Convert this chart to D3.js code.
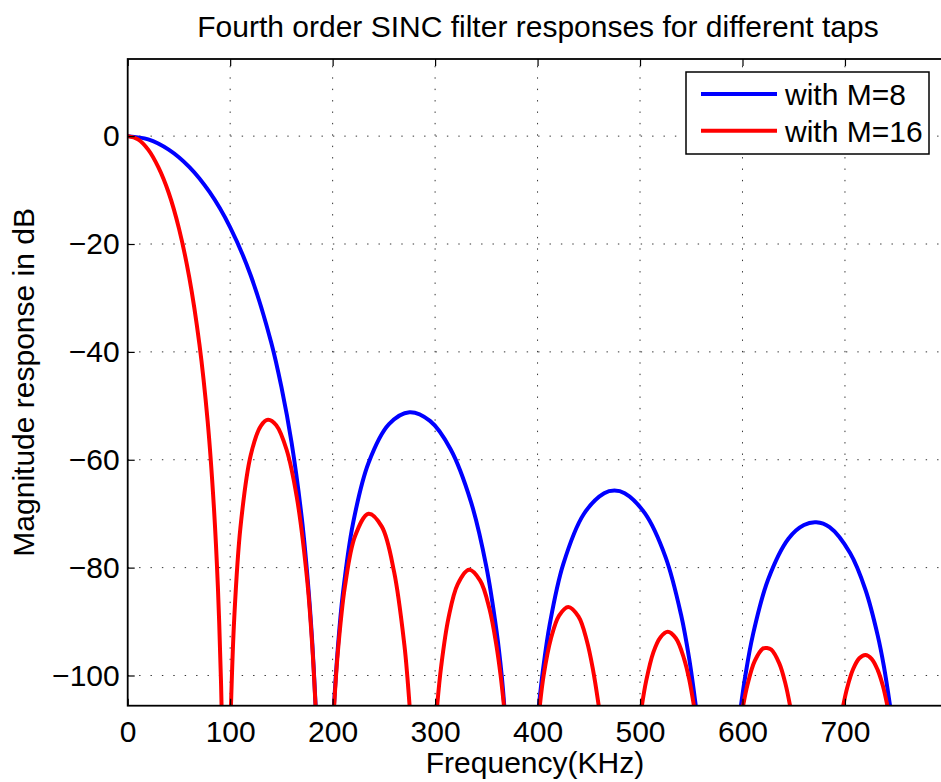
<!DOCTYPE html>
<html>
<head>
<meta charset="utf-8">
<script src="https://cdn.jsdelivr.net/npm/d3@7"></script>
<style>
  body { margin: 0; background: #fff; }
  .svg-container { width: 941px; height: 782px; overflow: hidden; }
  text { font-family: "Liberation Sans", Arial, sans-serif; fill: #000; }
</style>
</head>
<body>
<div class="svg-container"></div>
<script>
// frequency in KHz, magnitude in dB, one array per visible lobe
var m8Lobes = [
  [[0,0],[20,-0.6],[40,-2.5],[60,-5.7],[80,-10.4],[100,-16.9],[120,-25.8],[140,-38.2],[150,-46.5],[160,-56.9],[170,-71.0],[176,-83.0],[180,-93.5],[183.4,-105.6]],
  [[201.3,-105.6],[205,-95.1],[210,-84.8],[220,-71.7],[235,-60.6],[255,-53.4],[275,-51.2],[295,-52.8],[315,-58.0],[335,-67.8],[350,-79.8],[360,-91.8],[365,-100.0],[367.5,-105.6]],
  [[401.3,-105.6],[405,-99.4],[412,-90.4],[425,-79.4],[445,-70.1],[465,-66.2],[475,-65.7],[485,-66.2],[505,-70.0],[525,-78.1],[540,-88.7],[548,-96.9],[554.4,-105.6]],
  [[598.5,-105.6],[603,-99.8],[610,-92.6],[625,-82.2],[645,-74.6],[660,-72.1],[672,-71.6],[685,-72.5],[705,-77.3],[720,-84.1],[732,-92.6],[738,-98.3],[744.0,-105.6]]
];
var m16Lobes = [
  [[0,0],[10,-0.6],[20,-2.5],[30,-5.8],[40,-10.5],[50,-17.1],[60,-26.1],[70,-38.6],[78,-52.8],[84,-68.4],[88,-83.5],[91,-100.8],[91.6,-105.6]],
  [[100.8,-105.6],[104,-89.3],[110,-72.6],[120,-59.2],[130,-53.7],[137,-52.6],[145,-53.6],[155,-58.1],[165,-66.9],[175,-82.0],[180,-94.2],[183.3,-105.6]],
  [[201.5,-105.6],[205,-95.9],[212,-83.5],[222,-74.1],[235,-70.0],[248,-72.4],[260,-80.8],[270,-94.3],[273,-100.4],[275.1,-105.6]],
  [[302,-105.6],[306,-98.2],[313,-89.4],[322,-83.1],[333,-80.4],[344,-82.4],[353,-87.6],[360,-94.6],[364,-100.1],[367.2,-105.6]],
  [[402.2,-105.6],[406,-99.9],[413,-93.2],[421,-88.9],[430,-87.3],[440,-89.1],[448,-93.5],[454,-98.8],[459.7,-105.6]],
  [[501.8,-105.6],[506,-101.0],[513,-95.7],[520,-92.9],[527,-91.9],[535,-93.1],[543,-96.9],[548,-100.7],[552.6,-105.6]],
  [[600.6,-105.6],[605,-101.6],[612,-97.3],[620,-95.0],[624,-94.9],[628,-95.2],[636,-97.8],[642,-101.6],[646.4,-105.6]],
  [[698.3,-105.6],[702,-102.4],[708,-98.8],[714,-96.8],[720,-96.2],[726,-96.9],[732,-99.0],[737,-101.9],[741.4,-105.6]]
];
var seriesNames = ['with M=8', 'with M=16'];
var seriesColors = ['#0000ff', '#ff0000'];
var xTickValues = [0, 100, 200, 300, 400, 500, 600, 700];
var yTickValues = [0, -20, -40, -60, -80, -100];
var xDomain = [0, 795];
var yDomain = [-105.6, 14.3];

document.addEventListener('DOMContentLoaded', function(event) {
  sincPlot.makeBoard();
  sincPlot.makeGrid();
  sincPlot.makeLines();
  sincPlot.makeAxes();
  sincPlot.makeLegend();
});

var sincPlot = {
  mainSelect: '.svg-container',
  width: 941,
  height: 782,
  box: { left: 127.7, right: 942.3, top: 59, bottom: 705.7 },
  fontSize: 30,
  svg: null,
  x: null,
  y: null,
  makeBoard(){
    var b = sincPlot.box;
    sincPlot.svg = d3.select(sincPlot.mainSelect).append('svg')
    .attr('width', sincPlot.width)
    .attr('height', sincPlot.height);
    sincPlot.x = d3.scaleLinear().domain(xDomain).range([b.left, b.right]);
    sincPlot.y = d3.scaleLinear().domain(yDomain).range([b.bottom, b.top]);

    sincPlot.svg.append('clipPath')
    .attr('id', 'plotClip')
    .append('rect')
    .attr('x', b.left)
    .attr('y', b.top)
    .attr('width', b.right - b.left)
    .attr('height', b.bottom - b.top);

    sincPlot.svg.append('text')
    .attr('x', 538)
    .attr('y', 37)
    .attr('text-anchor', 'middle')
    .style('font-size', sincPlot.fontSize + 'px')
    .text('Fourth order SINC filter responses for different taps');

    sincPlot.svg.append('text')
    .attr('x', (b.left + b.right) / 2)
    .attr('y', 773)
    .attr('text-anchor', 'middle')
    .style('font-size', sincPlot.fontSize + 'px')
    .text('Frequency(KHz)');

    sincPlot.svg.append('text')
    .attr('transform', 'translate(34,' + ((b.top + b.bottom) / 2) + ') rotate(-90)')
    .attr('text-anchor', 'middle')
    .style('font-size', sincPlot.fontSize + 'px')
    .text('Magnitude response in dB');
  },
  makeGrid(){
    var b = sincPlot.box;
    var g = sincPlot.svg.append('g').attr('class', 'grid');
    g.selectAll('line.vgrid')
    .data(xTickValues.slice(1))
    .enter().append('line')
    .attr('class', 'vgrid')
    .attr('x1', function(d){ return sincPlot.x(d); })
    .attr('x2', function(d){ return sincPlot.x(d); })
    .attr('y1', b.bottom)
    .attr('y2', b.top);
    g.selectAll('line.hgrid')
    .data(yTickValues)
    .enter().append('line')
    .attr('class', 'hgrid')
    .attr('x1', b.left)
    .attr('x2', b.right)
    .attr('y1', function(d){ return sincPlot.y(d); })
    .attr('y2', function(d){ return sincPlot.y(d); });
    g.selectAll('line')
    .style('stroke', '#333')
    .style('stroke-width', 1)
    .style('stroke-dasharray', '1.4,10');
  },
  makeLines(){
    var line = d3.line()
    .x(function(d){ return sincPlot.x(d[0]); })
    .y(function(d){ return sincPlot.y(d[1]); })
    .curve(d3.curveCatmullRom.alpha(0.5));
    var g = sincPlot.svg.append('g').attr('clip-path', 'url(#plotClip)');
    [m8Lobes, m16Lobes].forEach(function(lobes, i){
      g.append('g').selectAll('path')
      .data(lobes)
      .enter().append('path')
      .attr('d', line)
      .style('fill', 'none')
      .style('stroke', seriesColors[i])
      .style('stroke-width', 4);
    });
  },
  makeAxes(){
    var b = sincPlot.box;
    var fmt = d3.format('d');
    var xAxis = sincPlot.svg.append('g')
    .attr('transform', 'translate(0,' + b.bottom + ')')
    .call(d3.axisBottom(sincPlot.x).tickValues(xTickValues).tickFormat(fmt).tickSizeInner(-7).tickSizeOuter(0).tickPadding(15));
    var xTop = sincPlot.svg.append('g')
    .attr('transform', 'translate(0,' + b.top + ')')
    .call(d3.axisTop(sincPlot.x).tickValues(xTickValues).tickFormat('').tickSizeInner(-7).tickSizeOuter(0));
    var yAxis = sincPlot.svg.append('g')
    .attr('transform', 'translate(' + b.left + ',0)')
    .call(d3.axisLeft(sincPlot.y).tickValues(yTickValues).tickFormat(fmt).tickSizeInner(-7).tickSizeOuter(0).tickPadding(8));
    [xAxis, xTop, yAxis].forEach(function(a){
      a.select('.domain').remove();
      a.selectAll('.tick line').style('stroke', '#000').style('stroke-width', 1.2);
      a.selectAll('text')
      .style('font-family', '"Liberation Sans", Arial, sans-serif')
      .style('font-size', sincPlot.fontSize + 'px')
      .style('fill', '#000');
    });
    sincPlot.svg.append('rect')
    .attr('x', b.left)
    .attr('y', b.top)
    .attr('width', b.right - b.left)
    .attr('height', b.bottom - b.top)
    .style('fill', 'none')
    .style('stroke', '#000')
    .style('stroke-width', 1.8);
  },
  makeLegend(){
    var legend = sincPlot.svg.append('g');
    legend.append('rect')
    .attr('x', 686)
    .attr('y', 72)
    .attr('width', 243)
    .attr('height', 82)
    .style('fill', '#fff')
    .style('stroke', '#000')
    .style('stroke-width', 1.5);
    var items = legend.selectAll('g.item')
    .data(seriesNames)
    .enter().append('g')
    .attr('class', 'item')
    .attr('transform', function(d, i){ return 'translate(0,' + (94 + i * 36.7) + ')'; });
    items.append('line')
    .attr('x1', 701)
    .attr('x2', 777)
    .style('stroke', function(d, i){ return seriesColors[i]; })
    .style('stroke-width', 4);
    items.append('text')
    .attr('x', 785)
    .attr('y', 11)
    .style('font-size', sincPlot.fontSize + 'px')
    .text(function(d){ return d; });
  }
};
</script>
</body>
</html>
